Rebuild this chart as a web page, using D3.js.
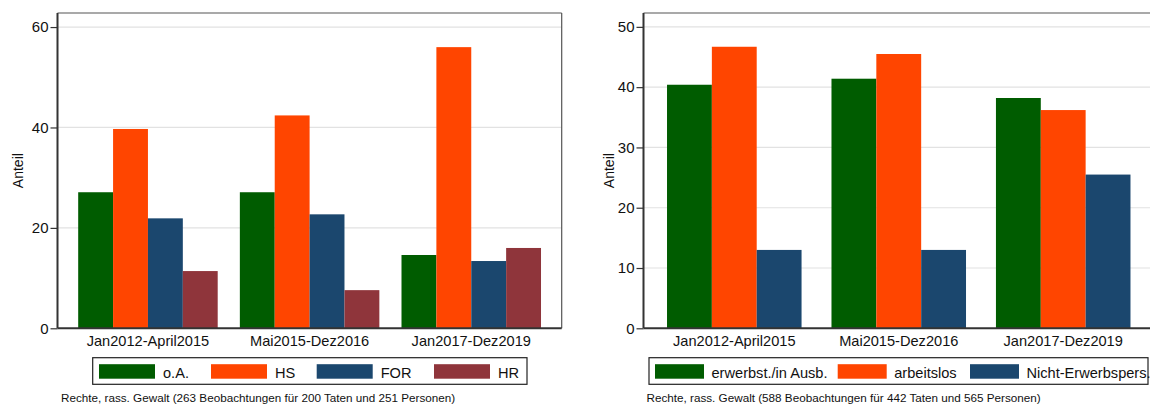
<!DOCTYPE html>
<html>
<head>
<meta charset="utf-8">
<script src="https://cdn.jsdelivr.net/npm/d3@7"></script>
<style>
  html, body { margin: 0; padding: 0; background: #fff; }
  svg { display: block; font-family: "Liberation Sans", Arial, Helvetica, sans-serif; }
</style>
</head>
<body>
<svg id="chart" width="1150" height="405"></svg>
<script>
// ---- data ----
const categories = ["Jan2012-April2015", "Mai2015-Dez2016", "Jan2017-Dez2019"];

const leftSeries = ["o.A.", "HS", "FOR", "HR"];
const leftOA  = [27.1, 27.1, 14.6];
const leftHS  = [39.7, 42.4, 56.0];
const leftFOR = [21.9, 22.7, 13.4];
const leftHR  = [11.4, 7.6, 16.0];
const leftTicks = [0, 20, 40, 60];
const leftNote = "Rechte, rass. Gewalt (263 Beobachtungen für 200 Taten und 251 Personen)";

const rightSeries = ["erwerbst./in Ausb.", "arbeitslos", "Nicht-Erwerbspers."];
const rightErw   = [40.4, 41.4, 38.2];
const rightArb   = [46.7, 45.5, 36.2];
const rightNicht = [13.0, 13.0, 25.5];
const rightTicks = [0, 10, 20, 30, 40, 50];
const rightNote = "Rechte, rass. Gewalt (588 Beobachtungen für 442 Taten und 565 Personen)";

const yTitle = "Anteil";

// ---- styles ----
const colorsLeft  = ["#005c00", "#ff4500", "#1b476e", "#8f353b"];
const colorsRight = ["#005c00", "#ff4500", "#1b476e"];

const svg = d3.select("#chart");

function drawPanel(cfg) {
  const g = svg.append("g");
  const { x0, x1, yTop, yBot, yMax, series, values, colors, ticks } = cfg;

  const y = d3.scaleLinear().domain([0, yMax]).range([yBot, yTop]);
  const x = d3.scaleBand().domain(categories).range([x0, x1])
    .paddingInner(cfg.padIn).paddingOuter(cfg.padOut);
  const xs = d3.scaleBand().domain(series).range([0, x.bandwidth()]);

  // grid
  g.append("g").selectAll("line").data(ticks.filter(t => t > 0)).join("line")
    .attr("x1", x0).attr("x2", Math.min(x1, 1150))
    .attr("y1", d => y(d)).attr("y2", d => y(d))
    .attr("stroke", "#e2e2e2").attr("stroke-width", 1.2);

  // frame (top and right)
  g.append("line").attr("x1", x0).attr("x2", x1).attr("y1", yTop).attr("y2", yTop)
    .attr("stroke", "#555").attr("stroke-width", 1.2);
  g.append("line").attr("x1", x1).attr("x2", x1).attr("y1", yTop).attr("y2", yBot)
    .attr("stroke", "#555").attr("stroke-width", 1.2);

  // bars
  series.forEach((s, i) => {
    g.append("g").selectAll("rect").data(categories).join("rect")
      .attr("x", c => x(c) + xs(s))
      .attr("width", xs.bandwidth())
      .attr("y", (c, j) => y(values[i][j]))
      .attr("height", (c, j) => yBot - y(values[i][j]))
      .attr("fill", colors[i]);
  });

  // y axis
  const ya = g.append("g").attr("transform", `translate(${x0},0)`)
    .call(d3.axisLeft(y).tickValues(ticks).tickSize(7).tickPadding(2).tickFormat(d3.format("d")));
  ya.select(".domain").remove();
  ya.selectAll(".tick line").attr("stroke", "#333").attr("stroke-width", 1.2);
  ya.selectAll(".tick text").attr("font-size", 15).attr("fill", "#111")
    .attr("font-family", "Liberation Sans, Arial, sans-serif");

  // axis lines
  g.append("line").attr("x1", x0).attr("x2", x0).attr("y1", yTop).attr("y2", yBot)
    .attr("stroke", "#333").attr("stroke-width", 2);
  g.append("line").attr("x1", x0).attr("x2", x1).attr("y1", yBot).attr("y2", yBot)
    .attr("stroke", "#333").attr("stroke-width", 2);

  // x labels
  const xa = g.append("g").attr("transform", `translate(0,${yBot})`)
    .call(d3.axisBottom(x).tickSize(0).tickPadding(0));
  xa.select(".domain").remove();
  xa.selectAll(".tick text").attr("font-size", 14.6).attr("fill", "#111")
    .attr("dy", null).attr("y", 17.4)
    .attr("font-family", "Liberation Sans, Arial, sans-serif");

  // y title
  g.append("text")
    .attr("transform", `translate(${cfg.titleX},${(yTop + yBot) / 2}) rotate(-90)`)
    .attr("text-anchor", "middle").attr("dominant-baseline", "central")
    .attr("font-size", 14).attr("fill", "#111").text(yTitle);

  // legend
  const L = cfg.legend;
  g.append("rect").attr("x", L.x).attr("y", L.y).attr("width", L.w).attr("height", L.h)
    .attr("fill", "#fff").attr("stroke", "#222").attr("stroke-width", 1.2);
  series.forEach((s, i) => {
    g.append("rect").attr("x", L.keyX[i]).attr("y", L.y + 6.5)
      .attr("width", L.swW).attr("height", 14.5).attr("fill", colors[i]);
    g.append("text").attr("x", L.keyX[i] + L.swW + L.txtGap).attr("y", L.y + 20)
      .attr("font-size", 14.6).attr("fill", "#111").text(s);
  });

  // note
  g.append("text").attr("x", cfg.noteX).attr("y", 401.5)
    .attr("font-size", 11.7).attr("fill", "#111").text(cfg.note);
}

drawPanel({
  x0: 57.5, x1: 561.7, yTop: 13, yBot: 328.3, yMax: 62.8,
  padIn: 0.137, padOut: 0.128,
  series: leftSeries, values: [leftOA, leftHS, leftFOR, leftHR],
  colors: colorsLeft, ticks: leftTicks, titleX: 17.5,
  legend: { x: 92.7, y: 357.7, w: 434.3, h: 26.6, keyX: [99, 211, 316.7, 434], swW: 56, txtGap: 8 },
  noteX: 61, note: leftNote
});

drawPanel({
  x0: 643.5, x1: 1154, yTop: 13, yBot: 328.3, yMax: 52.3,
  padIn: 0.182, padOut: 0.143,
  series: rightSeries, values: [rightErw, rightArb, rightNicht],
  colors: colorsRight, ticks: rightTicks, titleX: 608.5,
  legend: { x: 649, y: 357.7, w: 499, h: 26.6, keyX: [655, 837.7, 970], swW: 49, txtGap: 7.5 },
  noteX: 646.5, note: rightNote
});
</script>
</body>
</html>
